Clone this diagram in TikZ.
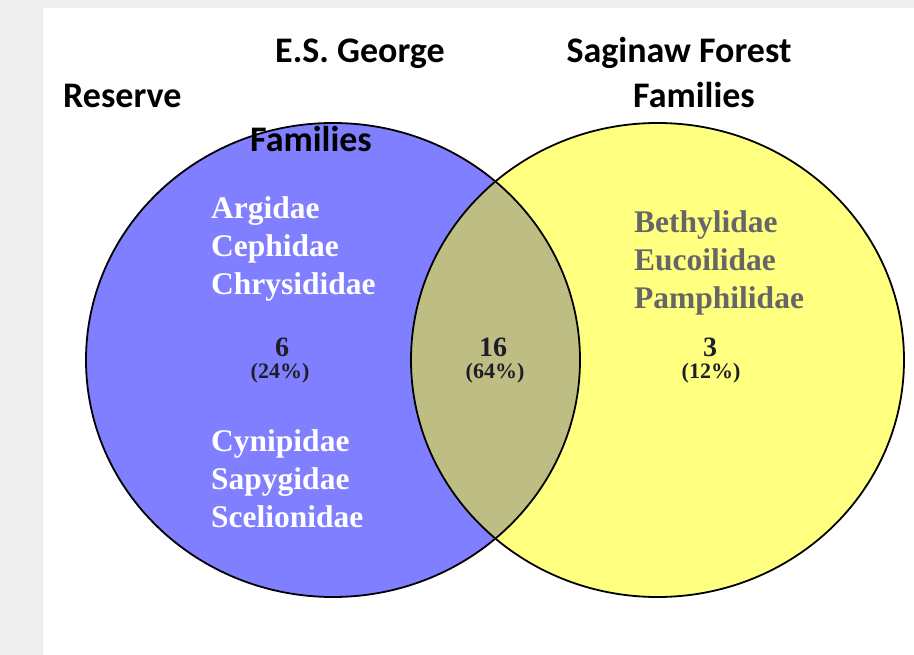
\documentclass[tikz,border=0pt]{standalone}
\usepackage{fontspec}
\setmainfont{Liberation Serif}
\newfontfamily\headfont{Carlito}
\definecolor{bgray}{HTML}{EEEEEE}
\definecolor{vblue}{HTML}{7F7FFF}
\definecolor{vyellow}{HTML}{FFFF80}
\definecolor{vmix}{HTML}{BEBE84}
\definecolor{listgray}{HTML}{666666}
\definecolor{numcol}{HTML}{1E1E28}
\begin{document}
\begin{tikzpicture}[x=1pt,y=-1pt,
  head/.style={font=\headfont\bfseries\fontsize{36}{40}\selectfont, inner sep=0pt},
  fam/.style={font=\bfseries\fontsize{31.5}{36}\selectfont, inner sep=0pt, anchor=base west},
  num/.style={font=\bfseries\fontsize{28}{30}\selectfont, inner sep=0pt, anchor=base, text=numcol},
  pct/.style={font=\bfseries\fontsize{22}{24}\selectfont, inner sep=0pt, anchor=base, text=numcol},
  outline/.style={draw=black, line width=1.8pt}]
\useasboundingbox (0,0) rectangle (914,655);
\fill[bgray] (0,0) rectangle (914,655);
\fill[white] (43,8) rectangle (914,655);
% circles
\fill[vblue] (333,360) ellipse [x radius=247, y radius=237];
\fill[vyellow] (657.5,360) ellipse [x radius=246.5, y radius=237];
\begin{scope}
  \clip (333,360) ellipse [x radius=247, y radius=237];
  \fill[vmix] (657.5,360) ellipse [x radius=246.5, y radius=237];
\end{scope}
\draw[outline] (333,360) ellipse [x radius=247, y radius=237];
\draw[outline] (657.5,360) ellipse [x radius=246.5, y radius=237];
% headings
\node[head, anchor=base] (hesg) at (360,63) {E.S. George};
\node[head, anchor=base west] (hres) at (63,108) {Reserve};
\node[head, anchor=base west] (hfamL) at (250,152) {Families};
\node[head, anchor=base] (hsag) at (679,63) {Saginaw Forest};
\node[head, anchor=base] (hfamR) at (694,108) {Families};
% left lists
\node[fam, text=white] (a1) at (211,219) {Argidae};
\node[fam, text=white] (a2) at (211,257) {Cephidae};
\node[fam, text=white] (a3) at (211,295) {Chrysididae};
\node[fam, text=white] (a4) at (211,451) {Cynipidae};
\node[fam, text=white] (a5) at (211,489) {Sapygidae};
\node[fam, text=white] (a6) at (211,527) {Scelionidae};
% right list
\node[fam, text=listgray] (b1) at (634,233) {Bethylidae};
\node[fam, text=listgray] (b2) at (634,271) {Eucoilidae};
\node[fam, text=listgray] (b3) at (634,309) {Pamphilidae};
% numbers
\node[num] (n1) at (282,357) {6};
\node[pct] (p1) at (280,378) {(24\%)};
\node[num] (n2) at (493,357) {16};
\node[pct] (p2) at (495,378) {(64\%)};
\node[num] (n3) at (710,357) {3};
\node[pct] (p3) at (711,378) {(12\%)};
\end{tikzpicture}
\end{document}
